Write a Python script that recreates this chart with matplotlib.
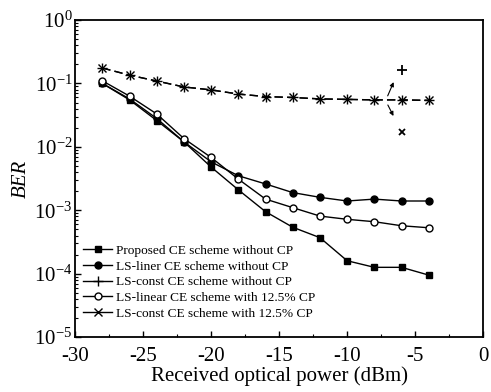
import matplotlib
matplotlib.use("Agg")
import matplotlib.pyplot as plt
from matplotlib.lines import Line2D
from matplotlib.ticker import LogLocator, MultipleLocator, NullFormatter

plt.rcParams['font.family'] = ['Liberation Serif', 'DejaVu Serif']
plt.rcParams['mathtext.fontset'] = 'custom'
plt.rcParams['mathtext.rm'] = 'Liberation Serif'
plt.rcParams['mathtext.it'] = 'Liberation Serif:italic'
plt.rcParams['axes.unicode_minus'] = False

# received optical power (dBm)
power = [-28, -26, -24, -22, -20, -18, -16, -14, -12, -10, -8, -6, -4]

# BER values
ber_proposed = [0.10, 0.055, 0.026, 0.012, 0.0048, 0.0021, 9.5e-4, 5.4e-4, 3.7e-4, 1.6e-4, 1.26e-4, 1.26e-4, 9.5e-5]
ber_liner = [0.10, 0.057, 0.028, 0.012, 0.0058, 0.0035, 0.0026, 0.0019, 0.0016, 0.0014, 0.0015, 0.0014, 0.0014]
ber_const = [0.175, 0.135, 0.109, 0.088, 0.079, 0.068, 0.062, 0.060, 0.057, 0.056, 0.055, 0.055, 0.054]
ber_linear_cp = [0.11, 0.063, 0.033, 0.0135, 0.0068, 0.0031, 0.0015, 0.0011, 8.1e-4, 7.2e-4, 6.6e-4, 5.7e-4, 5.3e-4]
ber_const_cp = [0.175, 0.135, 0.109, 0.088, 0.079, 0.068, 0.062, 0.060, 0.057, 0.056, 0.055, 0.055, 0.054]

labels = [
    "Proposed CE scheme without CP",
    "LS-liner CE scheme without CP",
    "LS-const CE scheme without CP",
    "LS-linear CE scheme with 12.5% CP",
    "LS-const CE scheme with 12.5% CP",
]

fig = plt.figure(figsize=(4.91, 3.92), dpi=100)
ax = fig.add_axes([0.153, 0.140, 0.831, 0.809])

ax.plot(power, ber_proposed, '-s', color='black', ms=4.5, lw=1)
ax.plot(power, ber_liner, '-o', color='black', ms=5, lw=1)
ax.plot(power, ber_const, '+', color='black', ms=7, mew=1, ls=(0, (6, 3)), lw=1)
ax.plot(power, ber_linear_cp, '-o', color='black', mfc='white', ms=5, lw=1)
ax.plot(power, ber_const_cp, 'x', color='black', ms=6, mew=1, ls=(0, (6, 3)), lw=1)

# markers pointing out the two overlapping curves
ax.plot([-6], [0.16], '+', color='black', ms=7, mew=1.3)
ax.plot([-6], [0.017], 'x', color='black', ms=4.5, mew=1.3)
ax.annotate('', xy=(-6.5, 0.115), xytext=(-7.1, 0.058),
            arrowprops=dict(arrowstyle='-|>', color='black', lw=0.8, mutation_scale=6))
ax.annotate('', xy=(-6.5, 0.028), xytext=(-7.1, 0.05),
            arrowprops=dict(arrowstyle='-|>', color='black', lw=0.8, mutation_scale=6))

ax.set_yscale('log')
ax.set_xlim(-30, 0)
ax.set_ylim(1e-5, 1)
ax.xaxis.set_major_locator(MultipleLocator(5))
ax.xaxis.set_minor_locator(MultipleLocator(2.5))
ax.yaxis.set_major_locator(LogLocator(base=10, numticks=10))
ax.yaxis.set_minor_locator(LogLocator(base=10, subs=range(2, 10), numticks=10))
ax.yaxis.set_minor_formatter(NullFormatter())
ax.tick_params(which='both', direction='in', top=False, right=False, labelsize=15)
ax.tick_params(which='major', length=4, width=1)
ax.tick_params(which='minor', length=2, width=0.8)
ax.tick_params(axis='y', pad=2)
ax.tick_params(axis='x', pad=7)
for s in ax.spines.values():
    s.set_linewidth(1.3)

ax.set_xlabel('Received optical power (dBm)', fontsize=15, labelpad=0)
ax.set_ylabel('BER', fontsize=15, style='italic', labelpad=2)

# legend keys are drawn with short solid lines in the original
handles = [
    Line2D([], [], color='black', lw=1, marker='s', ms=4.5),
    Line2D([], [], color='black', lw=1, marker='o', ms=5),
    Line2D([], [], color='black', lw=1, marker='+', ms=7),
    Line2D([], [], color='black', lw=1, marker='o', ms=5, mfc='white'),
    Line2D([], [], color='black', lw=1, marker='x', ms=6),
]
ax.legend(handles, labels, loc='lower left', bbox_to_anchor=(0.0, 0.03), frameon=False, fontsize=9.6,
          handlelength=2.2, handletextpad=0.25, labelspacing=0.25, borderaxespad=0.2)

fig.savefig('out.png', dpi=100)
